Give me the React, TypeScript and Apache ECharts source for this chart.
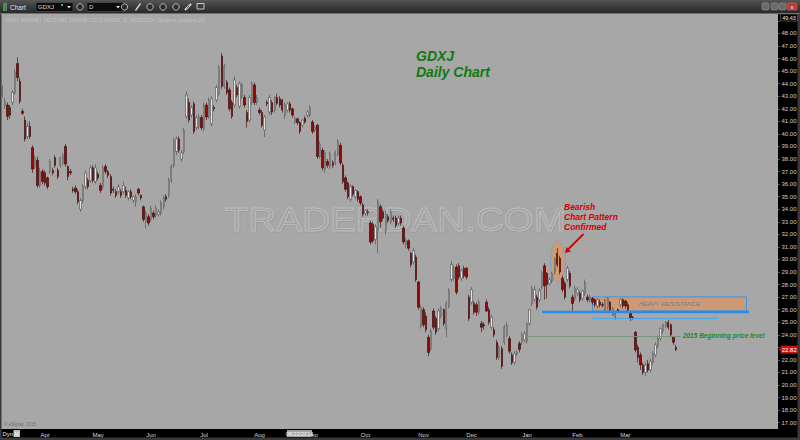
import React, { useEffect, useRef } from 'react';
import * as echarts from 'echarts';

// [open, close, low, high] per trading day
const mar14 = [
  [43.2, 43.6, 42.9, 43.9], [42.3, 42.6, 42.0, 42.9], [42.3, 41.4, 41.1, 42.5], [42.1, 41.5, 41.2, 42.3],
  [42.5, 43.3, 42.3, 43.5], [43.3, 44.9, 43.1, 45.2], [45.6, 44.5, 44.2, 46.1], [44.2, 42.6, 42.4, 44.5],
  [41.8, 41.65, 41.5, 42.0], [41.1, 39.6, 39.4, 41.4], [39.8, 40.6, 39.6, 40.9], [40.6, 39.8, 39.6, 41.0],
  [38.9, 37.2, 36.9, 39.1], [37.4, 38.1, 37.2, 38.3], [37.9, 35.9, 35.7, 38.2], [35.9, 37.0, 35.7, 37.3],
  [37.0, 36.2, 36.0, 37.2],
];
const apr14 = [
  [36.9, 36.1, 35.9, 37.1], [36.5, 35.8, 35.6, 36.6], [37.0, 37.8, 36.8, 38.0], [37.1, 36.9, 36.7, 37.3],
  [38.1, 37.5, 37.3, 38.3], [37.1, 36.6, 36.4, 37.3], [37.5, 38.1, 37.3, 38.2], [37.7, 38.3, 37.5, 38.5],
  [39.0, 37.6, 37.4, 39.2], [37.4, 36.6, 36.3, 37.5], [37.0, 36.9, 36.7, 37.2], [35.6, 35.5, 35.3, 35.8],
  [35.7, 35.4, 35.2, 35.9], [35.4, 34.6, 34.4, 35.6], [34.0, 34.7, 33.8, 34.9], [34.7, 35.8, 34.5, 36.0],
  [35.8, 36.9, 35.6, 37.1], [36.3, 35.8, 35.6, 36.5], [36.3, 37.3, 36.1, 37.5], [37.3, 36.3, 36.1, 37.5],
  [36.2, 37.3, 36.0, 37.6],
];
const may14 = [
  [36.8, 36.5, 36.3, 37.0], [35.9, 35.5, 35.3, 36.1], [35.8, 37.3, 35.6, 37.5], [37.4, 37.0, 36.8, 37.6],
  [37.0, 36.7, 36.5, 37.1], [36.6, 35.3, 35.1, 36.8], [35.6, 35.5, 35.3, 35.8], [35.4, 35.1, 34.9, 35.6],
  [35.4, 35.8, 35.2, 36.0], [35.4, 35.1, 34.9, 35.6], [35.4, 35.9, 35.2, 36.2], [35.5, 35.1, 34.9, 35.8],
  [34.9, 35.4, 34.7, 35.5], [35.4, 35.0, 34.8, 35.6], [34.7, 35.0, 34.5, 35.1], [34.6, 35.0, 34.2, 35.2],
  [35.6, 35.3, 35.1, 35.7], [35.1, 34.9, 34.7, 35.2], [34.2, 33.2, 33.0, 34.3], [33.0, 33.7, 32.5, 33.9],
  [33.4, 32.9, 32.7, 33.6],
];
const jun14 = [
  [33.2, 34.1, 33.0, 34.3], [33.7, 33.4, 33.2, 33.9], [33.5, 34.1, 33.3, 34.3], [33.6, 33.8, 33.4, 34.0],
  [33.7, 34.5, 33.5, 34.7], [34.2, 34.9, 34.0, 35.1], [35.0, 34.8, 34.6, 35.2], [35.1, 36.3, 34.9, 36.5],
  [36.3, 37.4, 36.1, 37.6], [37.5, 39.5, 37.3, 39.7], [38.6, 39.6, 38.3, 39.8], [39.6, 38.7, 38.5, 39.8],
  [38.0, 38.5, 37.8, 38.7], [38.6, 40.3, 38.4, 40.5], [41.4, 43.1, 41.2, 43.4], [42.5, 41.1, 40.9, 42.8],
  [41.5, 42.1, 41.3, 42.3], [42.4, 40.2, 40.0, 42.6], [40.5, 41.3, 40.3, 41.5], [40.6, 41.35, 40.4, 41.6],
  [41.3, 40.5, 40.3, 41.5],
];
const jul14 = [
  [40.4, 42.3, 40.2, 42.5], [42.3, 41.35, 41.1, 42.5], [41.4, 42.7, 41.2, 42.9], [40.8, 42.8, 40.6, 43.0],
  [42.1, 42.0, 41.8, 42.3], [42.7, 43.7, 42.5, 43.9], [43.2, 45.3, 43.0, 45.5], [46.2, 43.8, 43.6, 46.45],
  [43.8, 45.4, 43.6, 45.6], [44.1, 43.3, 43.1, 44.3], [43.5, 42.0, 41.8, 43.7], [42.5, 41.4, 41.2, 42.7],
  [42.3, 44.3, 42.1, 44.6], [43.7, 43.1, 42.9, 43.9], [42.2, 44.0, 42.0, 44.2], [43.0, 43.9, 42.8, 44.1],
  [42.9, 42.3, 42.1, 43.1], [41.7, 41.0, 40.5, 41.9], [41.1, 42.9, 40.9, 43.1], [42.5, 44.0, 42.3, 44.2],
  [43.9, 42.5, 42.3, 44.1], [42.5, 42.9, 42.3, 43.1],
];
const aug14 = [
  [41.9, 41.7, 41.5, 42.1], [41.7, 40.7, 40.5, 41.9], [40.3, 41.35, 39.75, 41.5], [42.5, 42.4, 42.2, 42.7],
  [41.75, 42.9, 41.5, 43.1], [42.5, 41.75, 41.5, 42.7], [41.9, 42.9, 41.7, 43.0], [42.9, 42.45, 42.3, 43.2],
  [42.8, 42.3, 42.1, 43.0], [42.7, 41.9, 41.7, 42.8], [41.5, 42.3, 41.2, 42.5], [41.9, 42.4, 41.7, 42.5],
  [42.4, 41.9, 41.7, 42.6], [42.0, 41.5, 41.3, 42.1], [40.95, 41.25, 40.8, 41.4], [41.2, 40.9, 40.7, 41.3],
  [40.9, 40.2, 40.0, 41.0], [40.7, 41.1, 40.5, 41.2], [41.25, 40.95, 40.8, 41.4], [41.5, 41.75, 41.3, 41.9],
  [41.5, 42.1, 41.3, 42.3],
];
const sep14 = [
  [40.95, 40.2, 40.0, 41.1], [40.3, 40.55, 40.1, 40.7], [40.7, 38.2, 38.0, 40.8], [38.2, 39.2, 38.0, 39.4],
  [38.7, 37.3, 37.1, 38.9], [37.2, 38.5, 36.9, 38.7], [37.8, 37.5, 37.3, 38.0], [37.4, 38.4, 37.2, 38.6],
  [37.7, 37.5, 37.3, 37.9], [37.7, 38.5, 37.5, 38.7], [38.4, 39.4, 38.2, 39.6], [39.1, 37.7, 37.5, 39.3],
  [37.5, 36.2, 36.0, 37.7], [36.5, 35.6, 35.4, 36.7], [36.1, 35.0, 34.8, 36.2], [34.8, 35.8, 34.6, 36.0],
  [35.8, 35.2, 35.0, 35.9], [35.0, 35.5, 34.8, 35.6], [35.4, 34.8, 34.6, 35.5], [35.0, 34.5, 34.3, 35.1],
  [34.35, 33.6, 33.4, 34.5],
];
const oct14 = [
  [33.7, 33.9, 33.5, 34.0], [33.8, 33.75, 33.5, 34.0], [32.9, 31.4, 31.2, 33.1], [32.8, 31.5, 31.3, 33.0],
  [31.6, 32.6, 31.2, 32.8], [32.3, 34.6, 30.5, 34.8], [34.2, 33.0, 32.5, 34.4], [33.8, 33.3, 33.1, 34.0],
  [32.3, 33.6, 32.0, 33.9], [33.4, 33.1, 32.9, 33.6], [33.0, 33.8, 32.8, 34.0], [33.3, 33.2, 33.0, 33.5],
  [33.3, 32.7, 32.5, 33.5], [32.9, 33.3, 32.7, 33.5], [33.3, 32.9, 32.7, 33.5], [32.5, 31.4, 31.2, 32.7],
  [31.2, 31.5, 30.9, 31.7], [31.5, 30.9, 30.7, 31.6], [30.5, 29.6, 29.4, 30.6], [29.8, 30.7, 29.6, 30.9],
  [30.2, 28.4, 28.2, 30.4], [28.2, 26.2, 26.0, 28.3], [24.7, 26.2, 24.5, 26.4],
];
const nov14 = [
  [26.0, 24.8, 24.6, 26.2], [25.5, 24.4, 24.2, 25.8], [23.8, 22.6, 22.3, 24.0], [22.9, 24.3, 22.7, 24.5],
  [25.9, 24.6, 24.4, 26.1], [25.3, 24.2, 24.0, 25.5], [24.5, 25.9, 24.3, 26.1], [25.5, 26.1, 25.3, 26.3],
  [26.0, 24.9, 24.7, 26.1], [24.5, 26.5, 23.8, 26.7], [26.3, 27.5, 26.1, 27.7], [28.4, 29.6, 28.2, 29.9],
  [28.5, 29.3, 28.3, 29.5], [29.4, 27.4, 27.2, 29.6], [29.5, 28.6, 28.4, 29.7], [28.5, 29.1, 28.3, 29.3],
  [29.3, 28.7, 28.5, 29.5], [29.3, 28.6, 28.4, 29.4], [27.0, 25.3, 25.1, 27.2],
];
const dec14 = [
  [26.6, 27.6, 26.4, 27.8], [26.5, 25.8, 25.6, 26.7], [26.4, 25.8, 25.5, 26.6], [25.8, 26.6, 25.6, 26.8],
  [24.9, 24.6, 24.2, 25.1], [24.8, 24.7, 24.4, 25.0], [26.6, 25.9, 25.8, 26.8], [26.0, 25.0, 24.8, 26.2],
  [24.6, 25.4, 24.4, 25.6], [24.4, 24.0, 23.8, 24.6], [23.4, 22.2, 22.0, 23.6], [22.2, 23.0, 22.0, 23.2],
  [22.9, 21.5, 21.3, 23.1], [23.4, 24.6, 23.2, 24.8], [24.0, 24.75, 23.8, 25.0], [23.7, 22.7, 22.5, 23.9],
  [22.4, 21.8, 21.6, 22.6], [21.8, 22.5, 21.6, 22.7], [22.5, 22.6, 22.3, 22.8], [23.3, 22.85, 22.6, 23.5],
  [23.4, 24.0, 23.2, 24.2],
];
const jan15 = [
  [23.6, 24.1, 23.4, 24.3], [23.5, 24.9, 23.3, 25.0], [24.9, 26.0, 24.7, 26.1], [26.5, 27.7, 26.3, 27.9],
  [26.8, 27.6, 26.6, 27.9], [27.0, 26.2, 26.0, 27.2], [26.8, 27.5, 26.6, 27.7], [27.8, 28.9, 27.6, 29.1],
  [29.5, 27.9, 26.8, 29.7], [28.9, 28.0, 26.9, 29.0], [28.1, 28.4, 27.9, 28.6], [28.3, 28.9, 28.1, 29.0],
  [29.0, 30.0, 28.8, 30.2], [30.5, 29.6, 29.4, 30.9], [30.1, 29.0, 28.8, 30.3], [28.5, 27.6, 27.4, 28.7],
  [28.1, 27.0, 26.8, 28.3], [28.4, 29.3, 28.2, 29.5], [28.9, 27.9, 27.7, 29.1], [27.0, 26.5, 25.9, 27.2],
];
const feb15 = [
  [26.9, 27.7, 26.7, 27.9], [27.3, 27.6, 27.1, 27.8], [27.3, 26.8, 26.6, 27.5], [26.9, 27.5, 26.7, 27.6],
  [27.3, 28.2, 27.1, 28.4], [27.0, 26.8, 26.6, 27.2], [26.8, 27.0, 26.6, 27.2], [26.9, 26.6, 26.4, 27.0],
  [26.8, 26.4, 26.2, 26.9], [26.3, 26.8, 26.1, 26.9], [26.6, 26.4, 26.2, 26.8], [26.4, 26.35, 26.2, 26.6],
  [26.0, 26.8, 25.9, 26.9], [26.2, 26.9, 26.0, 27.0], [26.6, 26.0, 25.8, 26.7], [25.6, 26.1, 25.5, 26.2],
  [25.4, 25.7, 25.2, 25.9], [26.0, 25.9, 25.8, 26.1], [26.4, 26.8, 26.2, 26.9],
];
const mar15 = [
  [26.8, 26.3, 26.1, 26.9], [26.7, 26.3, 26.1, 26.8], [26.4, 26.0, 25.8, 26.6], [25.8, 25.3, 25.1, 25.9],
  [25.4, 25.35, 25.2, 25.5], [24.2, 22.8, 22.6, 24.3], [23.0, 22.2, 21.8, 23.2], [22.4, 21.6, 21.2, 22.6],
  [21.6, 21.0, 20.8, 21.8], [21.0, 21.6, 20.7, 21.8], [21.7, 21.2, 21.0, 22.0], [21.2, 21.9, 21.0, 22.1],
  [21.8, 22.5, 21.6, 22.7], [22.4, 23.2, 22.2, 23.4], [23.1, 23.7, 22.9, 23.9], [23.7, 24.5, 23.5, 24.6],
  [24.3, 24.8, 24.1, 24.9], [24.7, 25.0, 24.5, 25.1], [25.0, 24.6, 24.4, 25.2], [24.8, 24.0, 23.8, 24.9],
  [23.8, 23.4, 23.2, 23.9], [23.0, 22.82, 22.7, 23.2],
];

// Price levels drawn on the chart
const resistanceTop = 27.02;
const resistanceBottom = 25.9;
const blueLevel1 = 25.85;
const blueLevel2 = 25.32;
const yearOpenLevel = 23.92;
const lastPrice = 22.82;
// axis labels hidden behind the price boxes in the reference
const hiddenAxisLabels = [49, 23];

// trading-day index ranges of the annotations
const resistanceRange = [234, 295];
const blueRange1 = [214, 296];
const blueRange2 = [234, 284];
const yearOpenRange = [208, 269];

const monthNames = ['Jan', 'Feb', 'Mar', 'Apr', 'May', 'Jun', 'Jul', 'Aug', 'Sep', 'Oct', 'Nov', 'Dec'];
const holidays = [
  '2014-04-18', '2014-05-26', '2014-07-04', '2014-09-01', '2014-11-27', '2014-12-25',
  '2015-01-01', '2015-01-19', '2015-02-16', '2015-04-03', '2015-05-25',
];
const totalSlots = 308;

function buildDates(): string[] {
  const out: string[] = [];
  const d = new Date(Date.UTC(2014, 2, 7));
  while (out.length < totalSlots) {
    const dow = d.getUTCDay();
    const s = d.toISOString().slice(0, 10);
    if (dow !== 0 && dow !== 6 && holidays.indexOf(s) < 0) out.push(s);
    d.setUTCDate(d.getUTCDate() + 1);
  }
  return out;
}

const FONT = 'Liberation Sans, Arial, sans-serif';

export default function App() {
  const ref = useRef<HTMLDivElement>(null);

  useEffect(() => {
    if (!ref.current) return;
    const chart = echarts.init(ref.current, undefined, { renderer: 'svg' });

    const candles = [
      ...mar14, ...apr14, ...may14, ...jun14, ...jul14, ...aug14, ...sep14,
      ...oct14, ...nov14, ...dec14, ...jan15, ...feb15, ...mar15,
    ];
    const dates = buildDates();
    const monthStarts = new Set<number>();
    for (let i = 1; i < candles.length; i++) {
      if (dates[i].slice(5, 7) !== dates[i - 1].slice(5, 7)) monthStarts.add(i);
    }

    const icon = (cx: number) => ({
      type: 'circle', z: 101, shape: { cx, cy: 7, r: 3.2 },
      style: { fill: '#2c2c2c', stroke: '#d8d8d8', lineWidth: 0.8 },
    });

    const graphic: any[] = [
      // title bar
      { type: 'rect', z: 100, shape: { x: 0, y: 0, width: 800, height: 14 },
        style: { fill: { type: 'linear', x: 0, y: 0, x2: 0, y2: 1, colorStops: [
          { offset: 0, color: '#555555' }, { offset: 0.5, color: '#3a3a3a' }, { offset: 1, color: '#262626' }] } } },
      { type: 'rect', z: 101, shape: { x: 0, y: 13, width: 800, height: 1 }, style: { fill: '#6e6e6e' } },
      { type: 'rect', z: 101, shape: { x: 3, y: 3, width: 2, height: 8 }, style: { fill: '#2f9f3f' } },
      { type: 'rect', z: 101, shape: { x: 5.5, y: 3, width: 1, height: 8 }, style: { fill: '#a0a0a0' } },
      { type: 'text', z: 101, x: 10, y: 7, style: { text: 'Chart', fill: '#e4e4e4', fontSize: 6.5, fontFamily: FONT, verticalAlign: 'middle' } },
      { type: 'rect', z: 101, shape: { x: 36, y: 2.5, width: 37, height: 9 }, style: { fill: '#0c0c0c', stroke: '#5e5e5e', lineWidth: 0.5 } },
      { type: 'text', z: 102, x: 38, y: 7, style: { text: 'GDXJ', fill: '#dadada', fontSize: 6, fontFamily: FONT, verticalAlign: 'middle' } },
      { type: 'rect', z: 102, shape: { x: 61, y: 4, width: 2, height: 2 }, style: { fill: '#2fb0a0' } },
      { type: 'polygon', z: 102, shape: { points: [[67, 6], [71, 6], [69, 8.5]] }, style: { fill: '#dddddd' } },
      icon(80),
      { type: 'rect', z: 101, shape: { x: 87, y: 2.5, width: 37, height: 9 }, style: { fill: '#0c0c0c', stroke: '#5e5e5e', lineWidth: 0.5 } },
      { type: 'text', z: 102, x: 89, y: 7, style: { text: 'D', fill: '#dadada', fontSize: 6, fontFamily: FONT, verticalAlign: 'middle' } },
      { type: 'polygon', z: 102, shape: { points: [[116, 6], [120, 6], [118, 8.5]] }, style: { fill: '#dddddd' } },
      icon(124.5),
      { type: 'line', z: 101, shape: { x1: 135.5, y1: 10.5, x2: 140.5, y2: 3.5 }, style: { stroke: '#d8d8d8', lineWidth: 1.3 } },
      icon(150), icon(163), icon(176),
      { type: 'line', z: 101, shape: { x1: 185, y1: 10, x2: 191, y2: 4 }, style: { stroke: '#d8d8d8', lineWidth: 2.2 } },
      { type: 'line', z: 102, shape: { x1: 186.5, y1: 8.5, x2: 189.5, y2: 5.5 }, style: { stroke: '#333', lineWidth: 0.8 } },
      { type: 'rect', z: 101, shape: { x: 197, y: 3.5, width: 7, height: 5.5 }, style: { fill: 'none', stroke: '#d8d8d8', lineWidth: 0.9 } },
      { type: 'rect', z: 101, shape: { x: 762, y: 3, width: 7, height: 7, r: 1.5 }, style: { fill: '#6a6a6a', stroke: '#a8a8a8', lineWidth: 0.5 } },
      { type: 'rect', z: 101, shape: { x: 771, y: 3, width: 7, height: 7, r: 1.5 }, style: { fill: '#6a6a6a', stroke: '#a8a8a8', lineWidth: 0.5 } },
      { type: 'rect', z: 101, shape: { x: 779, y: 3, width: 7, height: 7, r: 1.5 }, style: { fill: '#6a6a6a', stroke: '#a8a8a8', lineWidth: 0.5 } },
      { type: 'rect', z: 101, shape: { x: 787, y: 3, width: 10, height: 7, r: 1.5 }, style: { fill: '#c0392b', stroke: '#e07060', lineWidth: 0.5 } },
      { type: 'text', z: 102, x: 792, y: 6.8, style: { text: 'x', fill: '#fff', fontSize: 6, fontFamily: FONT, align: 'center', verticalAlign: 'middle' } },
      // frame
      { type: 'rect', z: 100, shape: { x: 0, y: 14, width: 1.5, height: 426 }, style: { fill: '#3a3a3a' } },
      { type: 'rect', z: 100, shape: { x: 797.5, y: 14, width: 2.5, height: 426 }, style: { fill: '#3a3a3a' } },
      { type: 'rect', z: 100, shape: { x: 0, y: 437.5, width: 800, height: 2.5 }, style: { fill: '#3a3a3a' } },
      // info line and footer
      { type: 'text', z: 5, x: 5, y: 20, style: { text: 'GDXJ, MARKET VECTORS JUNIOR GOLD MINER, D, 08/22/2014 (Dynamic delayed 15)', fill: '#c2c2c2', fontSize: 5, fontFamily: FONT, verticalAlign: 'middle' } },
      { type: 'text', z: 5, x: 4, y: 424.5, style: { text: '© eSignal, 2015', fill: '#6e6e6e', fontSize: 4.5, fontFamily: FONT, verticalAlign: 'middle' } },
      { type: 'text', z: 101, x: 2.5, y: 433.5, style: { text: 'Dyn', fill: '#e0e0e0', fontSize: 6, fontFamily: FONT, verticalAlign: 'middle' } },
      { type: 'rect', z: 101, shape: { x: 13.5, y: 430, width: 6.5, height: 7 }, style: { fill: '#bdbdbd' } },
      { type: 'text', z: 102, x: 16.7, y: 433.5, style: { text: 'M', fill: '#ffffff', fontSize: 5, fontFamily: FONT, align: 'center', verticalAlign: 'middle' } },
      { type: 'rect', z: 101, shape: { x: 287, y: 430, width: 25, height: 7 }, style: { fill: '#a2a2a2' } },
      { type: 'text', z: 102, x: 299.5, y: 433.6, style: { text: '08/22/2014', fill: '#ffffff', fontSize: 5.5, fontFamily: FONT, align: 'center', verticalAlign: 'middle' } },
      { type: 'rect', z: 101, shape: { x: 780.5, y: 14, width: 17, height: 7 }, style: { fill: '#000', stroke: '#8a8a8a', lineWidth: 0.5 } },
      { type: 'text', z: 102, x: 789, y: 17.6, style: { text: '49.43', fill: '#e8e8e8', fontSize: 5.5, fontFamily: FONT, align: 'center', verticalAlign: 'middle' } },
      { type: 'polygon', z: 101, shape: { points: [[779, 349.6], [782, 346.4], [782, 352.8]] }, style: { fill: '#c81414' } },
      // watermark
      { type: 'text', z: 1, x: 226, y: 221, scaleX: 1.17,
        style: { text: 'TRADERDAN.COM', fill: 'rgba(0,0,0,0)', stroke: '#9c9c9c', lineWidth: 0.8, fontSize: 33, fontFamily: FONT, verticalAlign: 'middle' } },
      { type: 'text', z: 1, x: 225, y: 220, scaleX: 1.17,
        style: { text: 'TRADERDAN.COM', fill: 'rgba(255,255,255,0.03)', stroke: '#bcbcbc', lineWidth: 0.9, fontSize: 33, fontFamily: FONT, verticalAlign: 'middle' } },
      // title
      { type: 'text', z: 10, x: 416, y: 56, style: { text: 'GDXJ', fill: '#0f7a10', fontSize: 14, fontWeight: 'bold', fontStyle: 'italic', fontFamily: FONT, verticalAlign: 'middle' } },
      { type: 'text', z: 10, x: 416, y: 72, style: { text: 'Daily Chart', fill: '#0f7a10', fontSize: 14, fontWeight: 'bold', fontStyle: 'italic', fontFamily: FONT, verticalAlign: 'middle' } },
      // bearish annotation
      { type: 'ellipse', z: 1, shape: { cx: 557.8, cy: 261.5, rx: 7.3, ry: 20 }, style: { fill: 'rgba(226,150,95,0.72)', stroke: '#6aa2d8', lineWidth: 0.8 } },
      { type: 'text', z: 10, x: 564, y: 207, style: { text: 'Bearish', fill: '#d40000', fontSize: 8.5, fontWeight: 'bold', fontStyle: 'italic', fontFamily: FONT, verticalAlign: 'middle' } },
      { type: 'text', z: 10, x: 564, y: 217, style: { text: 'Chart Pattern', fill: '#d40000', fontSize: 8.5, fontWeight: 'bold', fontStyle: 'italic', fontFamily: FONT, verticalAlign: 'middle' } },
      { type: 'text', z: 10, x: 564, y: 227, style: { text: 'Confirmed', fill: '#d40000', fontSize: 8.5, fontWeight: 'bold', fontStyle: 'italic', fontFamily: FONT, verticalAlign: 'middle' } },
      { type: 'line', z: 10, shape: { x1: 583.5, y1: 234, x2: 568.5, y2: 249 }, style: { stroke: '#d40000', lineWidth: 1.8 } },
      { type: 'polygon', z: 10, shape: { points: [[565, 253], [571, 251.5], [566.5, 247]] }, style: { fill: '#d40000' } },
    ];

    const option: any = {
      animation: false,
      backgroundColor: '#000000',
      textStyle: { fontFamily: FONT },
      grid: {
        left: 1, right: 22, top: 14, bottom: 11, show: true,
        backgroundColor: '#a7a7a7', borderWidth: 0, containLabel: false, outerBoundsMode: 'none',
      },
      xAxis: {
        type: 'category', data: dates, boundaryGap: true,
        axisLine: { show: false }, axisTick: { show: false }, splitLine: { show: false },
        axisLabel: {
          interval: (i: number) => monthStarts.has(i),
          formatter: (v: string) => monthNames[parseInt(v.slice(5, 7), 10) - 1],
          color: '#d4d4d4', fontSize: 6, margin: 2.5, fontFamily: FONT,
        },
      },
      yAxis: {
        type: 'value', position: 'right', min: 16.5, max: 49.55, splitNumber: 33,
        minInterval: 1, maxInterval: 1,
        axisLine: { show: false }, splitLine: { show: false },
        axisTick: { show: true, length: 2, lineStyle: { color: '#8a8a8a', width: 0.6 } },
        axisLabel: {
          showMinLabel: false, showMaxLabel: false,
          formatter: (v: number) => (hiddenAxisLabels.indexOf(Math.round(v * 100) / 100) >= 0 ? '' : v.toFixed(2)),
          color: '#d0d0d0', fontSize: 6, margin: 3.5, fontFamily: FONT,
        },
      },
      series: [
        {
          type: 'candlestick',
          data: candles,
          barWidth: 1.9,
          itemStyle: {
            color: '#e4e4e4', color0: '#9a0606',
            borderColor: '#4c4c4c', borderColor0: '#320000', borderWidth: 0.6,
          },
          markArea: {
            silent: true,
            data: [[
              {
                xAxis: resistanceRange[0], yAxis: resistanceTop,
                itemStyle: { color: 'rgba(222,150,100,0.72)', borderColor: '#3d95e8', borderWidth: 1 },
                label: {
                  show: true, position: 'inside', formatter: 'HEAVY RESISTANCE',
                  color: '#737f90', fontStyle: 'italic', fontSize: 6.2, fontFamily: FONT,
                },
              },
              { xAxis: resistanceRange[1], yAxis: resistanceBottom },
            ]],
          },
          markLine: {
            silent: true, symbol: ['none', 'none'], label: { show: false },
            data: [
              [
                { coord: [blueRange1[0], blueLevel1], lineStyle: { color: '#2a8ce8', width: 2.4, type: 'solid' } },
                { coord: [blueRange1[1], blueLevel1] },
              ],
              [
                { coord: [blueRange2[0], blueLevel2], lineStyle: { color: '#4aa4ec', width: 1.2, type: 'solid' } },
                { coord: [blueRange2[1], blueLevel2] },
              ],
              [
                {
                  coord: [yearOpenRange[0], yearOpenLevel], lineStyle: { color: '#7b937c', width: 1, type: 'solid' },
                  label: {
                    show: true, position: 'end', distance: 2, formatter: '2015 Beginning price level',
                    color: '#1e8a1e', fontSize: 6.5, fontWeight: 'bold', fontStyle: 'italic', fontFamily: FONT,
                  },
                },
                { coord: [yearOpenRange[1], yearOpenLevel] },
              ],
              [
                {
                  coord: [0, lastPrice], lineStyle: { color: 'rgba(0,0,0,0)', width: 0.1, type: 'solid' },
                  label: {
                    show: true, position: 'end', distance: 4, formatter: lastPrice.toFixed(2), opacity: 1,
                    color: '#ffffff', backgroundColor: '#c81414', padding: [1, 2, 1, 1],
                    fontSize: 6, fontFamily: FONT,
                  },
                },
                { coord: [totalSlots - 1, lastPrice] },
              ],
            ],
          },
        },
      ],
      graphic,
    };

    chart.setOption(option);
    return () => chart.dispose();
  }, []);

  return (
    <div
      ref={ref}
      style={{ position: 'fixed', left: 0, top: 0, width: 800, height: 440 }}
    />
  );
}
